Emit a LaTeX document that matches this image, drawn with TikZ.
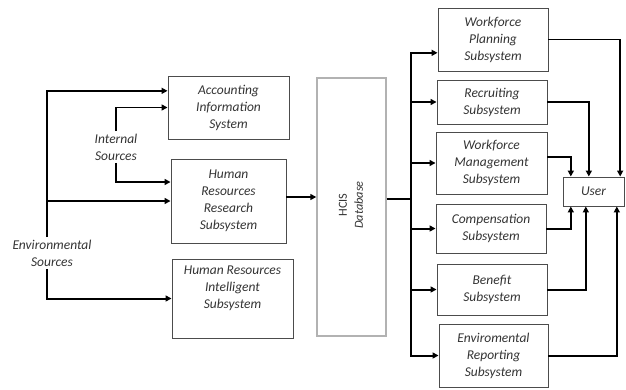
\documentclass[tikz,border=0pt]{standalone}
\usepackage{fontspec}
\setmainfont{Carlito}
\usetikzlibrary{arrows.meta}

\begin{document}
\begin{tikzpicture}[x=0.03cm, y=-0.03cm,
    box/.style={draw=black!70, line width=0.8pt, align=center, inner sep=0pt,
      text=black!80, font=\fontsize{11.5}{14.5}\selectfont\itshape},
    lbl/.style={align=center, inner sep=2pt, text=black!80,
      font=\fontsize{11.5}{14.5}\selectfont\itshape},
    conn/.style={line width=1.7pt, -{Triangle[length=5pt,width=5pt]}},
    busline/.style={line width=1.7pt}]
  \useasboundingbox (0,0) rectangle (626,389);

  \node[box, minimum width=3.63cm, minimum height=1.89cm] (acc) at (228.5,107.5) {Accounting\\Information\\System};
  \node[box, minimum width=3.45cm, minimum height=2.52cm] (hrr) at (228.5,201) {Human\\Resources\\Research\\Subsystem};
  \node[box, minimum width=3.63cm, minimum height=2.37cm] (hri) at (232.5,298.5) {};
  \node[lbl, anchor=north] (hritxt) at ([yshift=-0.15cm]hri.north) {Human Resources\\Intelligent\\Subsystem};

  \node[box, draw=black!30, line width=1.2pt, minimum width=2.07cm, minimum height=7.74cm] (db) at (351.5,207) {};
  \node[rotate=90, align=center, text=black!80, font=\fontsize{10.5}{13.6}\selectfont] (dbtxt) at (351,205) {HCIS\\\textit{Database}};

  \node[box, minimum width=3.3cm, minimum height=1.89cm] (wfp) at (493,39.5) {Workforce\\Planning\\Subsystem};
  \node[box, minimum width=3.3cm, minimum height=1.32cm] (rec) at (492,102) {Recruiting\\Subsystem};
  \node[box, minimum width=3.33cm, minimum height=1.86cm] (wfm) at (491.5,163) {Workforce\\Management\\Subsystem};
  \node[box, minimum width=3.3cm, minimum height=1.47cm] (com) at (491,228.5) {Compensation\\Subsystem};
  \node[box, minimum width=3.3cm, minimum height=1.53cm] (ben) at (492,289.5) {Benefit\\Subsystem};
  \node[box, minimum width=3.27cm, minimum height=1.89cm] (env) at (493.5,355.5) {Enviromental\\Reporting\\Subsystem};
  \node[box, minimum width=1.83cm, minimum height=0.87cm] (user) at (593.5,191.5) {User};

  \node[lbl] (intsrc) at (116,147) {Internal\\Sources};
  \node[lbl] (envsrc) at (52,253) {Environmental\\Sources};

  \coordinate (ej) at ([xshift=-0.15cm]envsrc.north);
  \draw[conn] (ej) |- ([yshift=0.5cm]acc.west);
  \draw[conn] (ej |- hrr.west) -- (hrr.west);
  \draw[conn] (ej |- envsrc.south) |- (hri.west);

  \draw[conn] (intsrc.north) |- (acc.west);
  \draw[conn] (intsrc.south) |- ([yshift=0.57cm]hrr.west);

  \draw[conn] ([yshift=0.12cm]hrr.east) -- ([yshift=0.12cm]hrr.east -| db.west);

  \coordinate (bus) at (411,199);
  \draw[busline] (db.east |- bus) -- (bus);
  \draw[conn] (bus) |- ([yshift=-0.4cm]wfp.west);
  \draw[conn] (bus) |- (env.west);
  \foreach \n in {rec, wfm, com, ben}
    \draw[conn] (bus |- \n.west) -- (\n.west);

  \foreach \n/\dy/\dx in {wfp/0/0.8, rec/0/-0.14, wfm/0.18/-0.68}
    \draw[conn] ([yshift=\dy cm]\n.east) -| ([xshift=\dx cm]user.north);
  \foreach \n/\dx in {com/-0.68, ben/-0.23, env/0.7}
    \draw[conn] (\n.east) -| ([xshift=\dx cm]user.south);
\end{tikzpicture}
\end{document}
